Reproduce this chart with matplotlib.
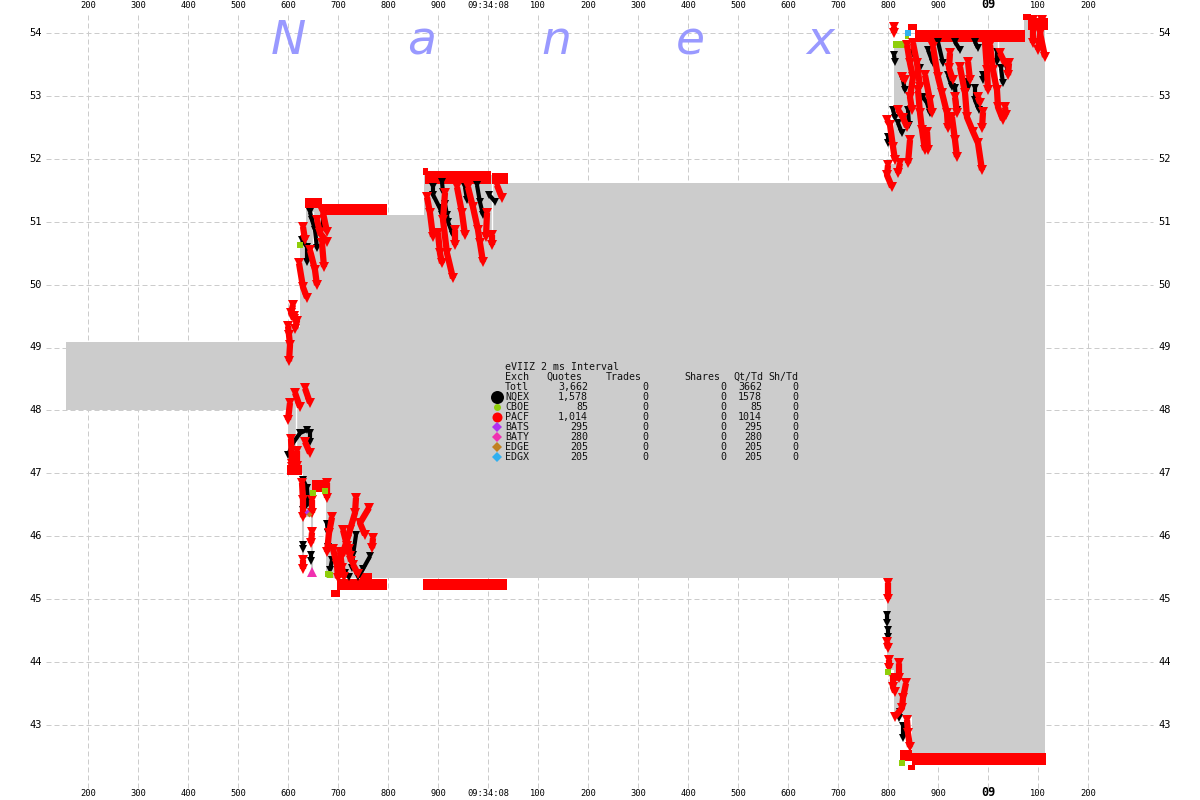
import matplotlib
matplotlib.use("Agg")
import matplotlib.pyplot as plt

MONO = "DejaVu Sans Mono"
GRAY = "#cccccc"
RED = "#ff0000"
BLACK = "#000000"
GREEN = "#8fce0a"

# time axis (ms) and labels
tick_times = [200,300,400,500,600,700,800,900,1000,1100,1200,1300,1400,1500,1600,1700,1800,1900,2000,2100,2200]
tick_labels = ["200","300","400","500","600","700","800","900","09:34:08","100","200","300","400","500","600","700","800","900","09","100","200"]
price_ticks = [43,44,45,46,47,48,49,50,51,52,53,54]

# NBBO band (step edges)
band_t = [156,600,624,630,636,648,676,872,1008,1798,1812,1848,2072,2114]
band_hi = [49.09,49.32,50.65,50.65,51.28,51.28,51.11,51.75,51.62,51.92,53.84,53.92,54.20,54.20]
band_lo = [48.01,47.00,47.00,46.30,46.30,46.70,45.33,45.33,45.33,43.87,43.13,42.55,42.55,42.55]

thin_stems = [(630,45.5,46.3),(648,45.45,46.3)]
white_gaps = [(1008,50.8,51.6),(616,47.3,48.2),(650,50.35,51.15),(2020,53.0,53.9)]

# solid quote runs: t0, t1, low, high
red_runs = [
    (634,668,51.22,51.38),(668,798,51.11,51.28),
    (874,1006,51.60,51.80),(1008,1040,51.60,51.78),(870,880,51.75,51.85),
    (598,628,46.97,47.13),(648,676,46.70,46.90),
    (698,798,45.14,45.32),(686,704,45.03,45.14),(744,768,45.32,45.41),
    (870,1038,45.14,45.32),
    (1854,2074,53.86,54.05),(1840,1858,54.05,54.14),(2080,2120,54.05,54.24),(2070,2086,54.20,54.30),
    (1848,2116,42.36,42.55),(1824,1848,42.42,42.60),(1840,1854,42.28,42.36),
]
green_runs = [(1810,1838,53.76,53.87),(1884,1890,53.84,53.90),(1834,1842,53.90,53.98)]

red_drips = [
    [(600,49.34),(602,49.20),(604,49.04),(602,48.78)],
    [(610,49.68),(606,49.55),(612,49.45)],
    [(612,49.50),(618,49.42),(614,49.30)],
    [(622,50.34),(630,49.96),(638,49.79)],
    [(630,50.92),(634,50.71)],
    [(644,50.55),(654,50.23),(658,49.99)],
    [(658,51.03),(664,50.82),(678,50.68)],
    [(668,50.66),(672,50.28)],
    [(670,51.14),(678,50.84)],
    [(878,51.39),(884,51.14),(890,50.76)],
    [(900,50.82),(904,50.50),(908,50.34)],
    [(914,51.46),(910,51.03),(918,50.50),(930,50.10)],
    [(938,51.55),(948,51.14),(954,50.79)],
    [(934,50.87),(934,50.63)],
    [(960,51.55),(970,51.23),(980,50.87),(984,50.66),(990,50.36)],
    [(998,51.14),(996,50.76)],
    [(1008,50.79),(1008,50.63)],
    [(1018,51.58),(1028,51.38)],
    [(604,48.12),(600,47.85)],
    [(614,48.28),(624,48.05)],
    [(634,48.35),(644,48.12)],
    [(614,47.26),(608,47.10)],
    [(606,47.55),(608,47.15)],
    [(618,47.35),(618,47.12)],
    [(634,47.50),(644,47.32)],
    [(628,46.85),(630,46.57),(630,46.30)],
    [(648,46.57),(648,46.37)],
    [(678,46.85),(678,46.60)],
    [(630,45.62),(630,45.48)],
    [(646,45.89),(648,46.06)],
    [(688,46.30),(682,46.05),(678,45.75)],
    [(690,45.80),(698,45.54),(700,45.33)],
    [(736,46.61),(734,46.37),(724,46.10),(718,45.94),(708,45.69)],
    [(710,46.10),(718,45.85),(724,45.69)],
    [(762,46.45),(744,46.21),(754,46.02)],
    [(770,45.97),(768,45.81)],
    [(704,45.75),(708,45.50),(712,45.35)],
    [(730,45.55),(740,45.40)],
    [(722,45.80),(726,45.60)],
    [(1812,54.10),(1812,54.00)],
    [(1798,52.62),(1804,52.54),(1810,52.19),(1814,51.98)],
    [(1800,51.90),(1798,51.74),(1808,51.55)],
    [(1824,51.93),(1820,51.77)],
    [(1820,52.78),(1830,52.65),(1838,52.51)],
    [(1828,53.30),(1834,53.25)],
    [(1844,52.30),(1840,51.93)],
    [(1838,53.81),(1844,53.52),(1850,53.30),(1844,52.98),(1848,52.78)],
    [(1860,53.09),(1864,52.73),(1868,52.46),(1874,52.14)],
    [(1850,53.84),(1858,53.52),(1864,53.14)],
    [(1878,52.43),(1880,52.14)],
    [(1874,53.33),(1884,52.93),(1888,52.73)],
    [(1890,53.78),(1900,53.30),(1908,53.05),(1918,52.73),(1920,52.49)],
    [(1928,52.66),(1934,52.30),(1938,52.03)],
    [(1924,53.68),(1922,53.44),(1930,53.25)],
    [(1934,52.98),(1938,52.73)],
    [(1944,53.46),(1954,53.05),(1958,52.66),(1970,52.43),(1980,52.25),(1988,51.82)],
    [(1960,53.54),(1964,53.25)],
    [(1980,52.98),(1984,52.89)],
    [(1990,52.74),(1988,52.49)],
    [(1994,53.86),(1998,53.41),(2000,53.09)],
    [(2004,53.81),(2010,53.41),(2018,53.09),(2020,52.82),(2030,52.62)],
    [(2024,53.68),(2034,53.52)],
    [(2042,53.52),(2040,53.33)],
    [(2034,52.82),(2036,52.70)],
    [(2090,54.21),(2090,53.84)],
    [(2104,54.00),(2114,53.62)],
    [(2108,54.21),(2100,53.73)],
    [(1800,45.25),(1800,45.00)],
    [(1798,44.32),(1800,44.22)],
    [(1802,44.03),(1802,43.90)],
    [(1822,43.98),(1822,43.75),(1810,43.75),(1810,43.60),(1814,43.52)],
    [(1836,43.66),(1830,43.43),(1828,43.27),(1814,43.13)],
    [(1838,43.08),(1840,42.87),(1844,42.65)],
]

black_drips = [
    [(644,51.15),(648,51.03),(654,50.87),(658,50.58)],
    [(628,50.71),(638,50.60),(638,50.36)],
    [(670,51.14),(670,50.92)],
    [(890,51.55),(890,51.43),(904,51.21),(908,51.11)],
    [(914,51.28),(918,51.11),(920,51.00),(930,50.79)],
    [(908,51.63),(910,51.47)],
    [(954,51.55),(958,51.35)],
    [(978,51.58),(984,51.31),(990,51.11)],
    [(1002,51.43),(1014,51.32)],
    [(600,47.29),(610,47.48),(624,47.64),(638,47.69)],
    [(644,47.64),(644,47.50)],
    [(630,46.90),(638,46.77),(640,46.53),(630,46.42)],
    [(630,45.86),(630,45.80)],
    [(646,45.70),(646,45.60)],
    [(678,46.20),(680,46.05),(680,45.83)],
    [(688,45.62),(684,45.46)],
    [(736,46.02),(730,45.70),(728,45.49)],
    [(764,45.68),(750,45.48),(740,45.35)],
    [(714,45.41),(722,45.35)],
    [(1812,53.65),(1814,53.54)],
    [(1810,52.78),(1814,52.65)],
    [(1800,52.35),(1800,52.25)],
    [(1820,52.57),(1828,52.41)],
    [(1830,53.25),(1834,53.09)],
    [(1840,52.78),(1842,52.54)],
    [(1850,53.68),(1864,53.44)],
    [(1870,52.98),(1878,52.89),(1884,52.73)],
    [(1880,53.73),(1890,53.52)],
    [(1900,53.86),(1910,53.52)],
    [(1920,53.33),(1928,53.14)],
    [(1934,53.13),(1938,52.78)],
    [(1934,53.86),(1944,53.73)],
    [(1960,53.22),(1960,53.13)],
    [(1974,53.13),(1974,52.93),(1982,52.78)],
    [(1974,53.86),(1980,53.76)],
    [(1990,53.33),(1990,53.25)],
    [(2018,53.70),(2018,53.54)],
    [(2026,53.44),(2030,53.20)],
    [(2038,53.44),(2040,53.35)],
    [(1798,44.75),(1798,44.62)],
    [(1800,44.51),(1800,44.40)],
    [(1824,43.21),(1822,43.11)],
    [(1830,42.98),(1830,42.79)],
]

green_pts = [(624,50.63),(650,46.69),(674,46.72),(680,45.40),(1800,43.84),(1828,42.39),(684,45.38)]
magenta_pts = [(648,45.43)]
purple_pts = [(638,46.38)]
orange_pts = [(642,46.36)]
blue_pts = [(1840,54.00)]

exchanges = ["NQEX","CBOE","PACF","BATS","BATY","EDGE","EDGX"]
quotes = ["1,578","85","1,014","295","280","205","205"]
qt_td = ["1578","85","1014","295","280","205","205"]
trades = [0,0,0,0,0,0,0]
shares = [0,0,0,0,0,0,0]
sh_td = [0,0,0,0,0,0,0]
ex_colors = ["#000000","#8fce0a","#ff0000","#b030f0","#f030b0","#c08020","#30b0f0"]
ex_sizes = [13,7,10,9,9,9,9]
title_letters = ["N","a","n","e","x"]

fig = plt.figure(figsize=(12,8),dpi=100)
ax = fig.add_axes([0,0,1,1])
ax.set_xlim(24,2424)
ax.set_ylim(54-767/62.9,54+33/62.9)
ax.axis("off")

def fx(px): return px/1200
def fy(py): return 1-py/800
tf = fig.transFigure

# grid
for t in tick_times:
    ax.plot([t,t],[42.0,54.33],color=GRAY,lw=0.72,dashes=(5,3),zorder=1)
for p in price_ticks:
    ax.plot([116,2330],[p,p],color=GRAY,lw=0.72,dashes=(5,3),zorder=1)

# band
ax.fill_between(band_t,band_lo,band_hi,step="post",color=GRAY,lw=0,zorder=2)
for t,a,b in thin_stems:
    ax.plot([t,t],[a,b],color=GRAY,lw=1.5,zorder=2)
for t,a,b in white_gaps:
    ax.plot([t,t],[a,b],color="white",lw=1,zorder=3)

# title
for px,s in zip([288,422,556,690,820],title_letters):
    fig.text(fx(px),fy(42),s,transform=tf,color="#9999ff",fontsize=34,style="italic",
             family="DejaVu Sans",ha="center",va="center",zorder=3)

# runs
for t0,t1,a,b in red_runs:
    ax.fill_between([t0,t1],[a,a],[b,b],color=RED,lw=0,zorder=5)
for t0,t1,a,b in green_runs:
    ax.fill_between([t0,t1],[a,a],[b,b],color=GREEN,lw=0,zorder=4)

# drips
for d in black_drips:
    ax.plot([q[0] for q in d],[q[1] for q in d],"-",color=BLACK,lw=3,marker="v",ms=5.5,mew=0,
            solid_capstyle="butt",zorder=5)
for d in red_drips:
    ax.plot([q[0] for q in d],[q[1] for q in d],"-",color=RED,lw=4.5,marker="v",ms=7.5,mew=0,
            solid_capstyle="butt",zorder=6)

for pts,c,m,s in [(green_pts,GREEN,"s",5),(magenta_pts,"#f030b0","^",7),(purple_pts,"#b030f0","D",3),
                  (orange_pts,"#c08020","D",3),(blue_pts,"#30b0f0","s",4)]:
    ax.plot([q[0] for q in pts],[q[1] for q in pts],ls="none",marker=m,ms=s,color=c,mew=0,zorder=7)

# tick labels
for t,l in zip(tick_times,tick_labels):
    if l=="09":
        kw = dict(fontsize=8.5,fontweight="bold")
    else:
        kw = dict(fontsize=6.3)
    for py in (5,793):
        ax.text(t,1-py/800,l,transform=ax.get_xaxis_transform(),family=MONO,ha="center",va="center",color="black",**kw)
for p in price_ticks:
    ax.text(42/1200,p,str(p),transform=ax.get_yaxis_transform(),family=MONO,fontsize=7.5,ha="right",va="center",color="black")
    ax.text(1158/1200,p,str(p),transform=ax.get_yaxis_transform(),family=MONO,fontsize=7.5,ha="left",va="center",color="black")

# stats panel
fs = 7.2
def tx(px,py,s,ha="left"):
    fig.text(fx(px),fy(py),s,transform=tf,family=MONO,fontsize=fs,ha=ha,va="center",color="#111111",zorder=9)
tx(505,367,"eVIIZ 2 ms Interval")
tx(505,377,"Exch"); tx(582,377,"Quotes",ha="right"); tx(642,377,"Trades",ha="right")
tx(720,377,"Shares",ha="right"); tx(763,377,"Qt/Td",ha="right"); tx(798,377,"Sh/Td",ha="right")
tx(505,387,"Totl"); tx(588,387,"3,662",ha="right"); tx(648,387,"0",ha="right")
tx(726,387,"0",ha="right"); tx(762,387,"3662",ha="right"); tx(798,387,"0",ha="right")
for i,e in enumerate(exchanges):
    py = 397+10*i
    tx(505,py,e); tx(588,py,quotes[i],ha="right"); tx(648,py,str(trades[i]),ha="right")
    tx(726,py,str(shares[i]),ha="right"); tx(762,py,qt_td[i],ha="right"); tx(798,py,str(sh_td[i]),ha="right")
    m = "o" if i<3 else "D"
    sz = ex_sizes[i]*(72/100)
    ax.plot([fx(497)],[fy(py)],transform=tf,marker=m,ms=sz if i<3 else sz*0.75,color=ex_colors[i],mew=0,ls="none",zorder=9)

fig.savefig("out.png",dpi=100)
